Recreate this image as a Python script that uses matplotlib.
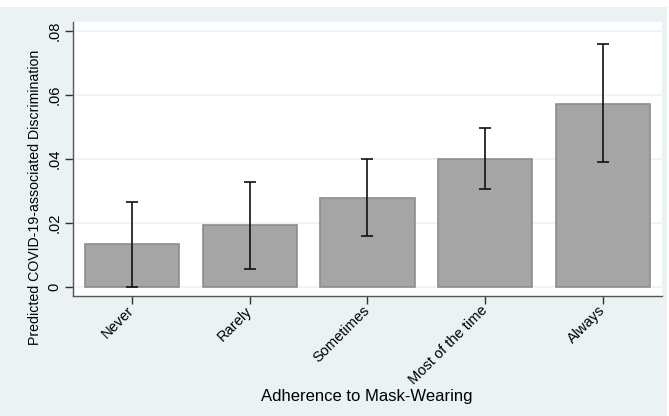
import matplotlib.pyplot as plt
import numpy as np

plt.rcParams['font.family'] = ['Liberation Sans', 'DejaVu Sans']

categories = ["Never", "Rarely", "Sometimes", "Most of the time", "Always"]
predicted = [0.0133, 0.0193, 0.0278, 0.0401, 0.0573]
ci_low = [0.0001, 0.0057, 0.0159, 0.0307, 0.0391]
ci_high = [0.0267, 0.0328, 0.0400, 0.0497, 0.0758]
yticks = [0, 0.02, 0.04, 0.06, 0.08]
ytick_labels = ["0", ".02", ".04", ".06", ".08"]

bg = "#EAF2F3"

fig = plt.figure(figsize=(6.69, 4.16), dpi=100)
fig.patch.set_facecolor("white")
# stata-like graph region
fig.add_artist(plt.Rectangle((0, 0), 667 / 669, 409 / 416, transform=fig.transFigure,
                             facecolor=bg, edgecolor="none", zorder=0))

ax = fig.add_axes([73 / 669, 1 - 296 / 416, 589 / 669, 274 / 416])
ax.set_facecolor("white")

x = np.arange(len(categories))
ax.bar(x, predicted, width=0.8, color="#A5A5A5", edgecolor="#8C8C8C", linewidth=1.2, zorder=2)
yerr = [np.array(predicted) - np.array(ci_low), np.array(ci_high) - np.array(predicted)]
ax.errorbar(x, predicted, yerr=yerr, fmt="none", ecolor="#111111", elinewidth=1.2,
            capsize=4, capthick=1.2, zorder=3)

ax.set_xlim(-0.5, 4.5)
ax.set_ylim(-0.0028, 0.0828)
ax.set_yticks(yticks)
ax.set_yticklabels(ytick_labels, rotation=90, va="center", fontsize=10.5)
ax.set_xticks(x)
ax.set_xticklabels(categories, rotation=45, ha="right", va="center",
                   rotation_mode="anchor", fontsize=10.5)
ax.tick_params(axis="y", length=6, width=1, color="#333333", pad=2.5)
ax.tick_params(axis="x", length=6, width=1, color="#333333", pad=3)

ax.grid(axis="y", color=bg, linewidth=1.2, zorder=1)
ax.set_axisbelow(True)

for side in ["top", "right"]:
    ax.spines[side].set_visible(False)
for side in ["left", "bottom"]:
    ax.spines[side].set_color("#555555")
    ax.spines[side].set_linewidth(1)

fig.text(35 / 669, 1 - 197 / 416, "Predicted COVID-19-associated Discrimination",
         rotation=90, ha="center", va="center", fontsize=10.2)
fig.text(367 / 669, 1 - 396 / 416, "Adherence to Mask-Wearing", ha="center", va="center", fontsize=12)

fig.savefig("out.png", dpi=100, facecolor=fig.get_facecolor())
